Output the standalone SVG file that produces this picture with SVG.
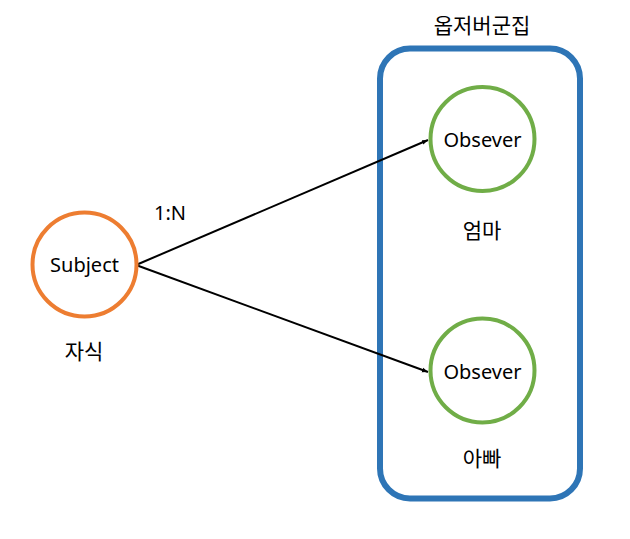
<svg xmlns="http://www.w3.org/2000/svg" width="630" height="539" viewBox="0 0 630 539">
<style>
text{font-family:"Noto Sans","Noto Sans CJK KR",sans-serif;font-size:20px;fill:#000;text-anchor:middle}
text.ko{font-family:"Noto Sans CJK KR",sans-serif;font-size:21px}
.obs{fill:#fff;stroke:#70AD47;stroke-width:4}
.sub{fill:#fff;stroke:#ED7D31;stroke-width:4}
.con{stroke:#000;stroke-width:2;fill:none;marker-end:url(#ah)}
</style>
<defs>
<marker id="ah" viewBox="0 0 10 10" refX="10" refY="5" markerWidth="6" markerHeight="6" orient="auto" markerUnits="userSpaceOnUse">
<path d="M0,1 L10,5 L0,9 Z" fill="#000"/>
</marker>
</defs>
<rect width="630" height="539" fill="#fff"/>
<g id="group">
<rect x="380" y="48.5" width="200" height="450" rx="30" ry="30" fill="none" stroke="#2E75B6" stroke-width="6"/>
<text class="ko" x="482" y="33">옵저버군집</text>
</g>
<g id="connectors">
<line class="con" x1="136" y1="265" x2="428" y2="140"/>
<line class="con" x1="136" y1="265" x2="428" y2="372"/>
<text x="170" y="220">1:N</text>
</g>
<g id="subject">
<circle class="sub" cx="84.5" cy="264.5" r="52"/>
<text x="84.5" y="272">Subject</text>
<text class="ko" x="84" y="359">자식</text>
</g>
<g id="observer1">
<circle class="obs" cx="482.5" cy="139" r="52"/>
<text x="482.5" y="147">Obsever</text>
<text class="ko" x="482" y="238">엄마</text>
</g>
<g id="observer2">
<circle class="obs" cx="482.5" cy="370.5" r="52"/>
<text x="482.5" y="379">Obsever</text>
<text class="ko" x="482" y="466">아빠</text>
</g>
</svg>
